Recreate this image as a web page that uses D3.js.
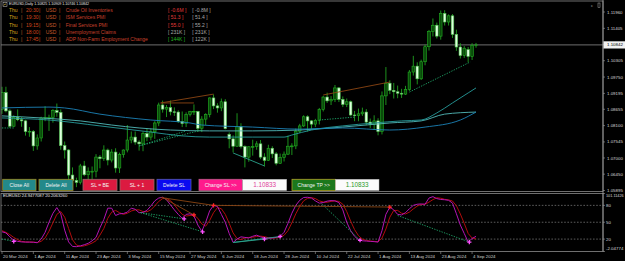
<!DOCTYPE html>
<html>
<head>
<meta charset="utf-8">
<style>
  body { margin: 0; background: #000; }
  svg { display: block; }
  text { font-family: "Liberation Sans", Arial, sans-serif; }
</style>
</head>
<body>
<svg width="625" height="261"></svg>
<script src="https://d3js.org/d3.v7.min.js"></script>
<script>
// ---- data (EURUSD daily, 20 Mar 2024 .. 5 Sep 2024) ----
var opens = [1.0865,1.0922,1.0860,1.0808,1.0838,1.0830,1.0826,1.0790,1.0790,1.0741,
  1.0768,1.0836,1.0834,1.0837,1.0861,1.0855,1.0742,1.0727,1.0642,1.0624,
  1.0617,1.0673,1.0643,1.0652,1.0655,1.0703,1.0698,1.0727,1.0693,1.0720,
  1.0666,1.0712,1.0727,1.0761,1.0771,1.0754,1.0748,1.0783,1.0771,1.0789,
  1.0819,1.0880,1.0866,1.0871,1.0857,1.0856,1.0824,1.0817,1.0848,1.0856,
  1.0858,1.0801,1.0832,1.0848,1.0904,1.0877,1.0870,1.0891,1.0780,1.0765,
  1.0740,1.0806,1.0739,1.0703,1.0736,1.0739,1.0748,1.0703,1.0692,1.0733,
  1.0714,1.0682,1.0702,1.0713,1.0738,1.0741,1.0791,1.0809,1.0840,1.0826,
  1.0815,1.0828,1.0865,1.0907,1.0894,1.0899,1.0938,1.0899,1.0882,1.0891,
  1.0846,1.0844,1.0850,1.0856,1.0822,1.0815,1.0826,1.0790,1.0911,1.0954,
  1.0930,1.0925,1.0920,1.0917,1.0933,1.0992,1.1012,1.0969,1.1027,1.1078,
  1.1130,1.1151,1.1114,1.1191,1.1162,1.1183,1.1120,1.1077,1.1048,1.1068,
  1.1045,1.10825];
var highs = [1.0942,1.0942,1.0866,1.0845,1.0865,1.0840,1.0830,1.0805,1.0795,1.0780,
  1.0840,1.0876,1.0847,1.0866,1.0885,1.0865,1.0756,1.0730,1.0668,1.0633,
  1.0680,1.0690,1.0668,1.0671,1.0713,1.0710,1.0743,1.0732,1.0730,1.0733,
  1.0718,1.0729,1.0812,1.0790,1.0790,1.0760,1.0790,1.0800,1.0800,1.0825,
  1.0888,1.0895,1.0880,1.0895,1.0872,1.0862,1.0858,1.0855,1.0860,1.0882,
  1.0860,1.0842,1.0852,1.0906,1.0916,1.0886,1.0902,1.0900,1.0787,1.0777,
  1.0852,1.0818,1.0743,1.0740,1.0762,1.0757,1.0761,1.0716,1.0745,1.0740,
  1.0720,1.0715,1.0722,1.0776,1.0750,1.0800,1.0816,1.0845,1.0845,1.0829,
  1.0833,1.0870,1.0911,1.0922,1.0910,1.0948,1.0941,1.0909,1.0902,1.0895,
  1.0860,1.0868,1.0871,1.0866,1.0834,1.0845,1.0835,1.0926,1.1009,1.0964,
  1.0955,1.0946,1.0935,1.0945,1.0999,1.1047,1.1025,1.1034,1.1085,1.1135,
  1.1174,1.1160,1.1201,1.1202,1.1188,1.1189,1.1136,1.1090,1.1080,1.1077,
  1.1090,1.10909];
var lows = [1.0850,1.0855,1.0802,1.0805,1.0825,1.0806,1.0776,1.0772,1.0724,1.0728,
  1.0756,1.0825,1.0792,1.0820,1.0840,1.0728,1.0698,1.0622,1.0620,1.0601,
  1.0610,1.0638,1.0610,1.0624,1.0634,1.0665,1.0690,1.0675,1.0685,1.0650,
  1.0649,1.0701,1.0719,1.0750,1.0745,1.0725,1.0723,1.0757,1.0760,1.0765,
  1.0808,1.0854,1.0839,1.0845,1.0843,1.0819,1.0805,1.0805,1.0841,1.0846,
  1.0789,1.0788,1.0812,1.0838,1.0866,1.0854,1.0859,1.0797,1.0733,1.0719,
  1.0738,1.0732,1.0668,1.0687,1.0708,1.0728,1.0696,1.0671,1.0690,1.0700,
  1.0675,1.0680,1.0688,1.0710,1.0710,1.0730,1.0785,1.0805,1.0790,1.0799,
  1.0805,1.0814,1.0858,1.0887,1.0880,1.0890,1.0890,1.0873,1.0873,1.0842,
  1.0825,1.0825,1.0843,1.0811,1.0802,1.0795,1.0777,1.0780,1.0880,1.0917,
  1.0902,1.0903,1.0904,1.0914,1.0928,1.0980,1.0950,1.0965,1.1015,1.1065,
  1.1113,1.1106,1.1102,1.1150,1.1150,1.1108,1.1064,1.1038,1.1040,1.1025,
  1.1033,1.10746];
var closes = [1.0922,1.0860,1.0808,1.0838,1.0830,1.0826,1.0790,1.0790,1.0741,1.0768,
  1.0836,1.0837,1.0837,1.0861,1.0855,1.0742,1.0727,1.0642,1.0624,1.0617,
  1.0673,1.0643,1.0655,1.0655,1.0703,1.0698,1.0727,1.0693,1.0720,1.0666,
  1.0712,1.0727,1.0761,1.0771,1.0754,1.0748,1.0783,1.0771,1.0789,1.0819,
  1.0880,1.0866,1.0871,1.0857,1.0856,1.0824,1.0817,1.0848,1.0858,1.0858,
  1.0801,1.0832,1.0848,1.0904,1.0877,1.0870,1.0891,1.0800,1.0765,1.0740,
  1.0806,1.0739,1.0703,1.0738,1.0739,1.0748,1.0703,1.0692,1.0733,1.0714,
  1.0682,1.0702,1.0713,1.0740,1.0741,1.0791,1.0809,1.0840,1.0826,1.0815,
  1.0828,1.0865,1.0907,1.0894,1.0899,1.0938,1.0899,1.0882,1.0891,1.0846,
  1.0844,1.0850,1.0856,1.0822,1.0815,1.0826,1.0790,1.0911,1.0954,1.0930,
  1.0925,1.0920,1.0917,1.0933,1.0992,1.1012,1.0969,1.1027,1.1078,1.1130,
  1.1151,1.1114,1.1191,1.1162,1.1183,1.1120,1.1077,1.1048,1.1073,1.1045,
  1.1083,1.10842];

// moving averages, read at a few bars
var maBlueBars = [0,12,16,25,38,48,51,64,76,87,99,108,117,121];
var maBlue     = [1.0870,1.0873,1.0870,1.0849,1.0829,1.0819,1.0812,1.0805,1.0798,1.0802,1.0795,1.0805,1.0829,1.0856];
var maSlowBars = [0,10,20,28,35,43,53,64,76,87,99,107,113,121];
var maSlow     = [1.0843,1.0836,1.0826,1.0812,1.0802,1.0795,1.0792,1.0792,1.0795,1.0805,1.0819,1.0826,1.0849,1.0856];
var maFastBars = [0,12,25,38,46,53,64,72,74,79,87,95,102,107,111,115,119,121];
var maFast     = [1.0836,1.0829,1.0809,1.0788,1.0775,1.0771,1.0771,1.0771,1.0778,1.0795,1.0809,1.0819,1.0826,1.0829,1.0853,1.0887,1.0921,1.0938];

// oscillator (main + signal)
var oscMain = [33,31,24,18,16,15,14.7,14.7,14.5,13.5,
  20,32,50,66,76,65,36,15,7,6.5,
  8,10,12.5,17,23,40,55,75,75,62,
  65,65.5,68,75,73,67,67.5,71,79,88,
  93,94.5,90,81,72,64,57,64,65,61,
  45,34,50,70,80,78,64,50,30,14,
  20,24,23,22,25,27,24,22,21.5,22,
  23,25,32,48,66,80,89,94,94.5,93,
  88,84,85,87.5,88.5,88,85,72,50,35,
  25,19,17,16.5,16,15.5,14.7,35,64,77,
  72,64,63,67,74,80,82,82.5,82,93,
  95.5,92,90.5,90,89,84,65,45,30,15,
  21,24.9];
var oscSignal = [35,32,28,23,19,16,15,14.8,14.6,14,
  16,22,34,49,64,69,59,39,19,9.5,
  7,8,10,13,17,27,39,57,68,71,
  67,64,66,70,72,72,69,68.5,72,79,
  87,92,92.5,88.5,81,72,64,61,62,63,
  57,47,43,53,67,76,74,64,48,31,
  21,19,22,23,23.3,24.7,25.3,24.3,22.5,21.8,
  22.2,23.3,26.7,35,49,65,78,88,92.5,93.8,
  92,88,86,85.5,87,88,87,82,69,52,
  37,26,20,17.5,16.5,16,15.4,21.7,38,59,
  71,71,66,64.7,68,73.7,78.7,81.5,82,85.8,
  90.2,93.5,92.7,90.8,89.8,87.7,79.3,64.7,48,30,
  22,20.2];
var oscLevels = [80, 50, 20];

// divergence lines [bar1, value1, bar2, value2]
var priceDotted = [[0,1.0802,3,1.0802],[35,1.0741,47,1.0792],[35,1.0741,51,1.0795],[81,1.0829,90,1.0839],[104,1.0924,119.5,1.1026]];
var priceBrown  = [[40.5,1.0887,54,1.0917],[40.5,1.0887,49,1.0887],[82,1.0914,99,1.0958]];
var priceTeal   = [[59,1.0717,67,1.0673]];
var oscDotted = [[0,20,3,16],[35.4,67,46.5,56],[35.4,67,51.2,33],[81.6,83,91.4,18],[101,62,119.3,14.7]];
var oscBrown  = [[40.5,94,54,80],[41,94,49,63],[54,80,99,77]];
var oscTeal   = [[59,14,67,20],[59,14,71,24.6]];
var bullMarks = [[3,16],[46.5,56],[51.2,33],[67,20],[71,24.6],[91.4,18],[119.3,14.7]];
var bearMarks = [[49,63],[54,80],[99,77]];

// axes
var priceTicks = [1.11960,1.11405,1.10850,1.10305,1.09750,1.09195,1.08655,1.08100,1.07545,1.07000,1.06450,1.05895];
var dateTicks = ["20 Mar 2024","1 Apr 2024","11 Apr 2024","23 Apr 2024","3 May 2024","15 May 2024","27 May 2024","6 Jun 2024",
  "18 Jun 2024","28 Jun 2024","10 Jul 2024","22 Jul 2024","1 Aug 2024","13 Aug 2024","23 Aug 2024","4 Sep 2024"];
var dateTickEvery = 8;
var lastPrice = 1.10842;
var oscMax = 101.11426, oscMin = -2.04774;

// header + news panel
var header = "EURUSD,Daily  1.10825 1.10909 1.10746 1.10842";
var oscTitle = "EURUSD 24.9477087 20.2063260";
var eventDays = ["Thu","Thu","Thu","Thu","Thu"];
var eventTimes = ["20:30","19:30","19:15","18:00","17:45"];
var eventCurrencies = ["USD","USD","USD","USD","USD"];
var eventNames = ["Crude Oil Inventories","ISM Services PMI","Final Services PMI","Unemployment Claims","ADP Non-Farm Employment Change"];
var eventActual = ["[ -0.6M ]","[ 51.3 ]","[ 55.0 ]","[ 231K ]","[ 144K ]"];
var eventForecast = ["[ -0.8M ]","[ 51.4 ]","[ 55.2 ]","[ 231K ]","[ 122K ]"];
var eventOutcome = ["worse","worse","worse","same","better"];

// trade panel
var buttonLabels = ["Close All","Delete All","SL = BE","SL + 1","Delete SL","Change SL >>","Change TP >>"];
var slValue = "1.10833", tpValue = "1.10833";

// ---- drawing ----
var svg = d3.select("svg");
var W = 625, H = 261;
var L = 1, R = 603, mTop = 1, mBot = 191.5, sTop = 193.5, sBot = 251.5;

svg.append("rect").attr("width", W).attr("height", H).attr("fill", "#000");

var defs = svg.append("defs");
defs.append("clipPath").attr("id", "cm").append("rect")
  .attr("x", L).attr("y", mTop).attr("width", R - L).attr("height", mBot - mTop);
defs.append("clipPath").attr("id", "cs").append("rect")
  .attr("x", L).attr("y", sTop).attr("width", R - L).attr("height", sBot - sTop);

var x = d3.scaleLinear().domain([0, 121]).range([2, 476]);
var y = d3.scaleLinear().domain([1.05895, 1.11960]).range([190.5, 12]);
var yo = d3.scaleLinear().domain([oscMin, oscMax]).range([sBot, sTop]);

var main = svg.append("g").attr("clip-path", "url(#cm)");
var sub = svg.append("g").attr("clip-path", "url(#cs)");

// price line
main.append("line").attr("x1", L).attr("x2", R)
  .attr("y1", y(lastPrice)).attr("y2", y(lastPrice))
  .attr("stroke", "#8c8c8c").attr("stroke-width", 0.8);

// candles
var bars = d3.range(closes.length);
var cg = main.append("g");
cg.selectAll("line.wick").data(bars).join("line")
  .attr("class", "wick")
  .attr("x1", function(i) { return x(i); }).attr("x2", function(i) { return x(i); })
  .attr("y1", function(i) { return y(highs[i]); }).attr("y2", function(i) { return y(lows[i]); })
  .attr("stroke", "#1fa01f").attr("stroke-width", 0.9);
cg.selectAll("rect.body").data(bars).join("rect")
  .attr("class", "body")
  .attr("x", function(i) { return x(i) - 1.3; })
  .attr("width", 2.6)
  .attr("y", function(i) { return y(Math.max(opens[i], closes[i])); })
  .attr("height", function(i) { return Math.max(0.6, Math.abs(y(opens[i]) - y(closes[i]))); })
  .attr("fill", function(i) { return closes[i] >= opens[i] ? "#0a4a0a" : "#dcffdc"; })
  .attr("stroke", function(i) { return closes[i] >= opens[i] ? "#22b022" : "#4cc04c"; })
  .attr("stroke-width", 0.6);

// moving averages
function maPath(bs, vs) {
  return d3.line().x(function(d, k) { return x(bs[k]); }).y(function(d) { return y(d); })
    .curve(d3.curveMonotoneX)(vs);
}
main.append("path").attr("d", maPath(maSlowBars, maSlow)).attr("fill", "none")
  .attr("stroke", "#52baba").attr("stroke-width", 0.9);
main.append("path").attr("d", maPath(maFastBars, maFast)).attr("fill", "none")
  .attr("stroke", "#279c9c").attr("stroke-width", 0.9);
main.append("path").attr("d", maPath(maBlueBars, maBlue)).attr("fill", "none")
  .attr("stroke", "#1c82b8").attr("stroke-width", 0.9);

// divergence lines
function segs(g, data, sy, color, dash, w) {
  g.selectAll(null).data(data).join("line")
    .attr("x1", function(d) { return x(d[0]); }).attr("y1", function(d) { return sy(d[1]); })
    .attr("x2", function(d) { return x(d[2]); }).attr("y2", function(d) { return sy(d[3]); })
    .attr("stroke", color).attr("stroke-width", w)
    .attr("stroke-dasharray", dash);
}
segs(main, priceDotted, y, "#1fa86a", "1.3,1.3", 0.9);
segs(main, priceBrown, y, "#8b4513", null, 0.9);
segs(main, priceTeal, y, "#2aa38c", null, 0.9);

// frames
svg.append("rect").attr("x", L).attr("y", mTop).attr("width", R - L).attr("height", mBot - mTop)
  .attr("fill", "none").attr("stroke", "#8a8a8a").attr("stroke-width", 0.8);
svg.append("rect").attr("x", L).attr("y", sTop).attr("width", R - L).attr("height", sBot - sTop)
  .attr("fill", "none").attr("stroke", "#8a8a8a").attr("stroke-width", 0.8);

// right price axis
var ax = svg.append("g");
ax.append("line").attr("x1", R).attr("x2", R).attr("y1", 0).attr("y2", sBot)
  .attr("stroke", "#a0a0a0").attr("stroke-width", 0.8);
ax.selectAll("g.pt").data(priceTicks).join("g").attr("class", "pt")
  .each(function(v) {
    var g = d3.select(this);
    g.append("line").attr("x1", R).attr("x2", R + 2).attr("y1", y(v)).attr("y2", y(v))
      .attr("stroke", "#a0a0a0").attr("stroke-width", 0.6);
    g.append("text").attr("x", R + 4).attr("y", y(v)).attr("dy", "0.35em")
      .attr("font-size", 4.4).attr("fill", "#d8d8d8").text(v.toFixed(5));
  });
// current price label
ax.append("rect").attr("x", R + 0.5).attr("y", y(lastPrice) - 3.6).attr("width", 21.5).attr("height", 7.2)
  .attr("fill", "#f2f2f2");
ax.append("text").attr("x", R + 4).attr("y", y(lastPrice)).attr("dy", "0.35em")
  .attr("font-size", 4.4).attr("fill", "#000").text(lastPrice.toFixed(5));

// oscillator window
sub.selectAll("line.lvl").data(oscLevels).join("line").attr("class", "lvl")
  .attr("x1", L).attr("x2", R).attr("y1", function(v) { return yo(v); }).attr("y2", function(v) { return yo(v); })
  .attr("stroke", "#9a9a9a").attr("stroke-width", 0.6).attr("stroke-dasharray", "1.6,1.6");
var oline = d3.line().x(function(d, i) { return x(i); }).y(function(d) { return yo(d); });
sub.append("path").attr("d", oline(oscSignal)).attr("fill", "none")
  .attr("stroke", "#b00c0c").attr("stroke-width", 1);
sub.append("path").attr("d", oline(oscMain)).attr("fill", "none")
  .attr("stroke", "#b414b4").attr("stroke-width", 1);
segs(sub, oscDotted, yo, "#1fa86a", "1.3,1.3", 0.9);
segs(sub, oscBrown, yo, "#8b4513", null, 0.9);
segs(sub, oscTeal, yo, "#2aa38c", null, 0.9);

function plus(g, data, color) {
  g.selectAll(null).data(data).join("path")
    .attr("d", function(d) {
      var cx = x(d[0]), cy = yo(d[1]);
      return "M" + (cx - 2.1) + "," + cy + "H" + (cx + 2.1) + "M" + cx + "," + (cy - 2.1) + "V" + (cy + 2.1);
    })
    .attr("stroke", color).attr("stroke-width", 1.3);
}
plus(sub, bullMarks, "#ff50ff");
plus(sub, bearMarks, "#ff2828");

svg.append("text").attr("x", 3).attr("y", 196.5).attr("font-size", 4.2).attr("fill", "#e8e8e8").text(oscTitle);

// oscillator axis labels
var oscLabels = [oscMax].concat(oscLevels).concat([oscMin]);
ax.selectAll("g.ot").data(oscLabels).join("g").attr("class", "ot")
  .each(function(v) {
    var g = d3.select(this);
    var yy = Math.max(sTop + 2.6, Math.min(sBot - 2.6, yo(v)));
    var txt = Number.isInteger(v) ? String(v) : v.toFixed(5);
    g.append("line").attr("x1", R).attr("x2", R + 2).attr("y1", yo(v)).attr("y2", yo(v))
      .attr("stroke", "#a0a0a0").attr("stroke-width", 0.6);
    g.append("text").attr("x", R + 3).attr("y", yy).attr("dy", "0.35em")
      .attr("font-size", txt.length > 8 ? 3.8 : 4.4).attr("fill", "#d8d8d8")
      .text(txt);
  });

// date axis
var dg = svg.append("g");
dg.selectAll("g.dt").data(dateTicks).join("g").attr("class", "dt")
  .each(function(s, k) {
    var xi = x(k * dateTickEvery);
    var g = d3.select(this);
    g.append("line").attr("x1", xi).attr("x2", xi).attr("y1", sBot).attr("y2", sBot + 2.5)
      .attr("stroke", "#a0a0a0").attr("stroke-width", 0.6);
    g.append("text").attr("x", xi + 1).attr("y", 256.5).attr("dy", "0.35em")
      .attr("font-size", 4.4).attr("fill", "#d0d0d0").text(s);
  });

// header
var hg = svg.append("g");
hg.append("rect").attr("x", 3).attr("y", 2.3).attr("width", 4).attr("height", 4)
  .attr("fill", "none").attr("stroke", "#d0d0d0").attr("stroke-width", 0.5);
hg.append("path").attr("d", "M3.8,5.6 L5,3.8 L6.2,4.9").attr("fill", "none").attr("stroke", "#e0c040").attr("stroke-width", 0.6);
hg.append("text").attr("x", 9).attr("y", 4.2).attr("dy", "0.35em").attr("font-size", 3.6)
  .attr("fill", "#e8e8e8").text(header);
hg.append("text").attr("x", 591).attr("y", 5.2).attr("dy", "0.35em").attr("font-size", 4).attr("fill", "#b0b0b0").text("c");
hg.append("rect").attr("x", 598).attr("y", 3).attr("width", 2).attr("height", 4.5)
  .attr("fill", "none").attr("stroke", "#b0b0b0").attr("stroke-width", 0.5);

// news rows
var cols = {day: 9, p1: 21, time: 26, p2: 39, cur: 45.7, p3: 59, name: 65.7, act: 168, fc: 192.3};
var rowY0 = 10.3, rowStep = 7.25;
var outcomeColor = {worse: "#e23a3a", same: "#a8a8a8", better: "#22b422"};
var ng = svg.append("g").attr("font-size", 5);
eventNames.forEach(function(name, r) {
  var yy = rowY0 + r * rowStep;
  function t(xx, s, c) {
    ng.append("text").attr("x", xx).attr("y", yy).attr("dy", "0.35em").attr("fill", c).text(s);
  }
  t(cols.day, eventDays[r], "#d8a21c");
  t(cols.p1, "|", "#c8642a");
  t(cols.time, eventTimes[r], "#d2461c");
  t(cols.p2, "|", "#c8642a");
  t(cols.cur, eventCurrencies[r], "#c85a2a");
  t(cols.p3, "|", "#c8642a");
  t(cols.name, name, "#c8402c");
  t(cols.act, eventActual[r], outcomeColor[eventOutcome[r]]);
  t(cols.fc, eventForecast[r], "#a8a8a8");
});

// trade buttons
var btnX = [2.7, 39, 83, 120, 157, 199, 292];
var btnW = [33.3, 34, 34, 34, 34, 43.5, 43.5];
var btnFill = ["#23898a", "#23898a", "#dc1a40", "#dc1a40", "#0a0af0", "#ff1a8c", "#1c781c"];
var btnStroke = ["#a08c22", "#a08c22", "#9a6a6a", "#9a6a6a", "#5a5ab0", "#c05a8a", "#b0a028"];
var btnY = 179.3, btnH = 11.2;
var bg = svg.append("g");
buttonLabels.forEach(function(s, k) {
  bg.append("rect").attr("x", btnX[k]).attr("y", btnY).attr("width", btnW[k]).attr("height", btnH)
    .attr("fill", btnFill[k]).attr("stroke", btnStroke[k]).attr("stroke-width", 0.8);
  bg.append("text").attr("x", btnX[k] + btnW[k] / 2).attr("y", btnY + btnH / 2).attr("dy", "0.35em")
    .attr("text-anchor", "middle").attr("font-size", 5).attr("fill", "#f4f4f4").text(s);
});
[[242.7, 44, slValue, "#e0409a"], [335.5, 43.5, tpValue, "#2a9a2a"]].forEach(function(b) {
  bg.append("rect").attr("x", b[0]).attr("y", btnY).attr("width", b[1]).attr("height", btnH)
    .attr("fill", "#fbfbfb").attr("stroke", "#b0b0b0").attr("stroke-width", 0.5);
  bg.append("text").attr("x", b[0] + b[1] / 2).attr("y", btnY + btnH / 2).attr("dy", "0.35em")
    .attr("text-anchor", "middle").attr("font-size", 6.3).attr("fill", b[3]).text(b[2]);
});
</script>
</body>
</html>
